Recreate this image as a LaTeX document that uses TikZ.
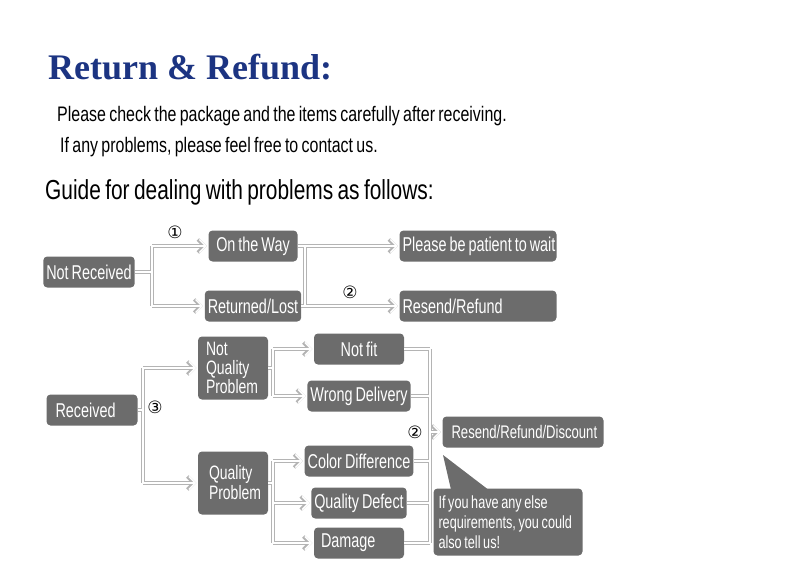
\documentclass[tikz,border=0pt]{standalone}
\usepackage{fontspec}
\usetikzlibrary{arrows.meta}
\setmainfont{Liberation Sans}
\newfontfamily\narrowfont[FakeStretch=0.76,WordSpace=0.75]{Liberation Sans}
\newfontfamily\boxfont[FakeStretch=0.72,WordSpace=0.75]{Liberation Sans}
\newfontfamily\titlefont{Liberation Serif}
\newfontfamily\circfont{DejaVu Sans}
\definecolor{boxgray}{RGB}{108,108,108}
\definecolor{linegray}{RGB}{180,180,180}
\definecolor{titleblue}{RGB}{28,52,130}

\begin{document}
\begin{tikzpicture}[x=1pt,y=-1pt,
  box/.style={fill=boxgray,text=white,rounded corners=4pt,minimum height=31pt,
    inner sep=3pt,font=\boxfont\fontsize{20}{20}\selectfont},
  lbox/.style={box,align=flush left},
  num/.style={font=\circfont\fontsize{17}{17}\selectfont,inner sep=0pt},
  tip/.style={-{Straight Barb[length=6.5pt,width=13pt,line width=#1]},shorten >=1.5pt}]
  \useasboundingbox (0,0) rectangle (790,583);
  % heading and intro lines
  \node[anchor=base west,inner sep=0pt,text=titleblue,
    font=\titlefont\bfseries\fontsize{36}{36}\selectfont] (title) at (48,80) {Return \& Refund:};
  \node[anchor=base west,inner sep=0pt,font=\narrowfont\fontsize{21}{21}\selectfont] (line1) at (57,122)
    {Please check the package and the items carefully after receiving.};
  \node[anchor=base west,inner sep=0pt,font=\narrowfont\fontsize{21}{21}\selectfont] (line2) at (60,153)
    {If any problems, please feel free to contact us.};
  \node[anchor=base west,inner sep=0pt,font=\narrowfont\fontsize{27.5}{27.5}\selectfont] (guide) at (45,199)
    {Guide for dealing with problems as follows:};

  % not received branch
  \node[box,minimum width=91pt] (notrec) at (89,272) {Not Received};
  \node[box,minimum width=89pt] (way) at (253,246) {On the Way};
  \node[box,minimum width=89pt] (lost) at (253,306) {Returned/Lost};
  \node[lbox,inner xsep=3pt,text width=151pt] (wait) at (478,246) {\mbox{Please be patient to wait}};
  \node[lbox,inner xsep=3pt,text width=151pt] (resend) at (478,306) {Resend/Refund};

  % received branch
  \node[lbox,inner xsep=9pt,text width=73pt] (rec) at (92,410) {Received};
  \node[lbox,inner xsep=8pt,text width=54pt,minimum height=63pt,
    font=\boxfont\fontsize{19.4}{19}\selectfont] (notq) at (233,368) {Not\\Quality\\Problem};
  \node[lbox,inner xsep=11pt,text width=48pt,minimum height=63pt,
    font=\boxfont\fontsize{19.4}{20}\selectfont] (qual) at (233,483) {Quality\\Problem};
  \node[box,minimum width=90pt] (notfit) at (359,349) {Not fit};
  \node[box,minimum width=90pt] (wrong) at (359,396) {Wrong Delivery};
  \node[box,minimum width=90pt] (color) at (359,461) {Color Difference};
  \node[box,minimum width=90pt] (defect) at (359,503) {Quality Defect};
  \node[lbox,inner xsep=7pt,text width=76pt] (damage) at (359,543) {Damage};
  \node[lbox,inner xsep=9pt,text width=143pt,
    font=\boxfont\fontsize{18.2}{19}\selectfont] (rrd) at (523,432) {\mbox{Resend/Refund/Discount}};

  % callout
  \coordinate (point) at (443,455);
  \fill[boxgray] (452,494) -- (point) -- (494,494) -- cycle;
  \node[lbox,inner xsep=5pt,text width=139pt,minimum height=67pt,
    font=\boxfont\fontsize{17.6}{20}\selectfont] (note) at (508,522)
    {\mbox{If you have any else}\\\mbox{requirements, you could}\\\mbox{also tell us!}};

  % connectors: gray pass first, white pass on top
  \foreach \w/\c in {3.4pt/linegray,1.4pt/white}{
    \draw[line width=\w,draw=\c]
      (notrec.east) -- (152,272) (152,246) -- (152,306)
      (305,246) -- (305,306)
      (rec.east) -- (143,410) (143,368) -- (143,483)
      (notq.east) -- (273,368) (273,349) -- (273,396)
      (qual.east) -- (273,483) (273,461) -- (273,543)
      (notfit.east) -- (430,349) (wrong.east) -- (430,396)
      (color.east) -- (430,461) (defect.east) -- (430,503)
      (damage.east) -- (430,543) (430,349) -- (430,543);
    \draw[line width=\w,draw=\c,tip=\w] (152,246) -- (way.west);
    \draw[line width=\w,draw=\c,tip=\w] (152,306) -- (lost.west);
    \draw[line width=\w,draw=\c,tip=\w] (way.east) -- (wait.west);
    \draw[line width=\w,draw=\c,tip=\w] (lost.east) -- (resend.west);
    \draw[line width=\w,draw=\c,tip=\w] (143,368) -- (notq.west);
    \draw[line width=\w,draw=\c,tip=\w] (143,483) -- (qual.west);
    \draw[line width=\w,draw=\c,tip=\w] (273,349) -- (notfit.west);
    \draw[line width=\w,draw=\c,tip=\w] (273,396) -- (wrong.west);
    \draw[line width=\w,draw=\c,tip=\w] (273,461) -- (color.west);
    \draw[line width=\w,draw=\c,tip=\w] (273,503) -- (defect.west);
    \draw[line width=\w,draw=\c,tip=\w] (273,543) -- (damage.west);
    \draw[line width=\w,draw=\c,tip=\w] (430,432) -- (rrd.west);
  }

  % step numbers
  \node[num] (n1) at (175,232) {①};
  \node[num] (n2) at (350,292) {②};
  \node[num] (n3) at (155,407) {③};
  \node[num] (n4) at (415,432) {②};
\end{tikzpicture}
\end{document}
